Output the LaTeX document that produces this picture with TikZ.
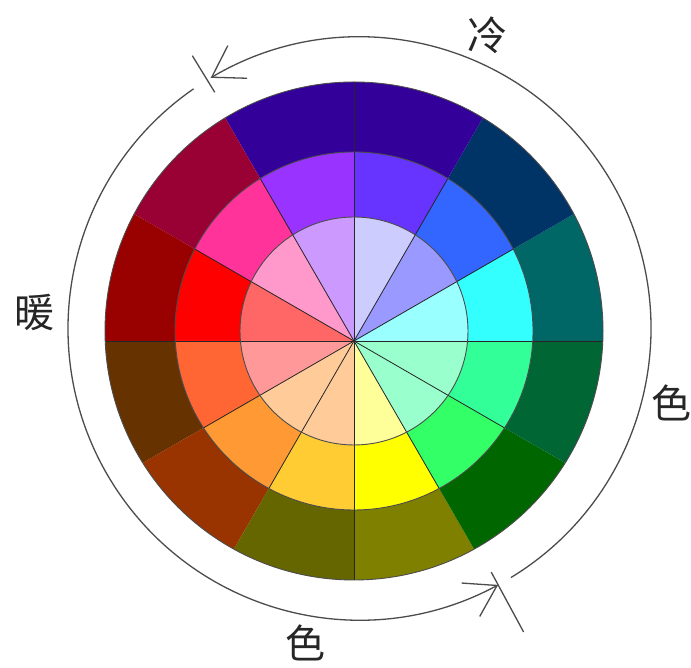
\documentclass[tikz,border=0pt]{standalone}
\usepackage{fontspec}
\newfontfamily\cjk{Noto Sans CJK SC}
\usetikzlibrary{arrows.meta}

\definecolor{o1}{HTML}{006666}
\definecolor{o2}{HTML}{003366}
\definecolor{o3}{HTML}{330099}
\definecolor{o4}{HTML}{330099}
\definecolor{o5}{HTML}{990033}
\definecolor{o6}{HTML}{990000}
\definecolor{o7}{HTML}{663300}
\definecolor{o8}{HTML}{993300}
\definecolor{o9}{HTML}{666600}
\definecolor{o10}{HTML}{808000}
\definecolor{o11}{HTML}{006600}
\definecolor{o12}{HTML}{006633}

\definecolor{m1}{HTML}{33FFFF}
\definecolor{m2}{HTML}{3366FF}
\definecolor{m3}{HTML}{6633FF}
\definecolor{m4}{HTML}{9933FF}
\definecolor{m5}{HTML}{FF3399}
\definecolor{m6}{HTML}{FF0000}
\definecolor{m7}{HTML}{FF6633}
\definecolor{m8}{HTML}{FF9933}
\definecolor{m9}{HTML}{FFCC33}
\definecolor{m10}{HTML}{FFFF00}
\definecolor{m11}{HTML}{33FF66}
\definecolor{m12}{HTML}{33FF99}

\definecolor{i1}{HTML}{99FFFF}
\definecolor{i2}{HTML}{9999FF}
\definecolor{i3}{HTML}{CCCCFF}
\definecolor{i4}{HTML}{CC99FF}
\definecolor{i5}{HTML}{FF99CC}
\definecolor{i6}{HTML}{FF6666}
\definecolor{i7}{HTML}{FF9999}
\definecolor{i8}{HTML}{FFCC99}
\definecolor{i9}{HTML}{FFCC99}
\definecolor{i10}{HTML}{FFFF99}
\definecolor{i11}{HTML}{99FFCC}
\definecolor{i12}{HTML}{99FFCC}

\begin{document}
\begin{tikzpicture}[x=1pt, y=1pt, every node/.style={font=\cjk\fontsize{40}{40}\selectfont, text=black!85, inner sep=0pt}, spoke/.style={draw=black!85, line width=0.8pt}, edge/.style={draw=black!70, line width=0.9pt}, loop/.style={draw=black!70, line width=1.3pt}, tip/.style={-{Straight Barb[length=30pt, width=38pt]}}]
\useasboundingbox (0,0) rectangle (691,668);
\fill[white] (0,0) rectangle (691,668);
\coordinate (oc) at (359.5,339.5);

\begin{scope}[shift={(354,327)}]
\begin{scope}
\clip (0,10) circle (249);
\fill[o1] (0,0) -- (0:400) -- (30:400) -- cycle;
\fill[o2] (0,0) -- (30:400) -- (60:400) -- cycle;
\fill[o3] (0,0) -- (60:400) -- (90:400) -- cycle;
\fill[o4] (0,0) -- (90:400) -- (120:400) -- cycle;
\fill[o5] (0,0) -- (120:400) -- (150:400) -- cycle;
\fill[o6] (0,0) -- (150:400) -- (180:400) -- cycle;
\fill[o7] (0,0) -- (180:400) -- (210:400) -- cycle;
\fill[o8] (0,0) -- (210:400) -- (240:400) -- cycle;
\fill[o9] (0,0) -- (240:400) -- (270:400) -- cycle;
\fill[o10] (0,0) -- (270:400) -- (300:400) -- cycle;
\fill[o11] (0,0) -- (300:400) -- (330:400) -- cycle;
\fill[o12] (0,0) -- (330:400) -- (360:400) -- cycle;
\draw[spoke] (180:400) -- (0:400);
\draw[spoke] (90:400) -- (270:400);
\end{scope}
\begin{scope}
\clip (0,10) circle (179);
\fill[m1] (0,0) -- (0:400) -- (30:400) -- cycle;
\fill[m2] (0,0) -- (30:400) -- (60:400) -- cycle;
\fill[m3] (0,0) -- (60:400) -- (90:400) -- cycle;
\fill[m4] (0,0) -- (90:400) -- (120:400) -- cycle;
\fill[m5] (0,0) -- (120:400) -- (150:400) -- cycle;
\fill[m6] (0,0) -- (150:400) -- (180:400) -- cycle;
\fill[m7] (0,0) -- (180:400) -- (210:400) -- cycle;
\fill[m8] (0,0) -- (210:400) -- (240:400) -- cycle;
\fill[m9] (0,0) -- (240:400) -- (270:400) -- cycle;
\fill[m10] (0,0) -- (270:400) -- (300:400) -- cycle;
\fill[m11] (0,0) -- (300:400) -- (330:400) -- cycle;
\fill[m12] (0,0) -- (330:400) -- (360:400) -- cycle;
\end{scope}
\begin{scope}
\clip (0,10) circle (114);
\fill[i1] (0,0) -- (0:400) -- (30:400) -- cycle;
\fill[i2] (0,0) -- (30:400) -- (60:400) -- cycle;
\fill[i3] (0,0) -- (60:400) -- (90:400) -- cycle;
\fill[i4] (0,0) -- (90:400) -- (120:400) -- cycle;
\fill[i5] (0,0) -- (120:400) -- (150:400) -- cycle;
\fill[i6] (0,0) -- (150:400) -- (180:400) -- cycle;
\fill[i7] (0,0) -- (180:400) -- (210:400) -- cycle;
\fill[i8] (0,0) -- (210:400) -- (240:400) -- cycle;
\fill[i9] (0,0) -- (240:400) -- (270:400) -- cycle;
\fill[i10] (0,0) -- (270:400) -- (300:400) -- cycle;
\fill[i11] (0,0) -- (300:400) -- (330:400) -- cycle;
\fill[i12] (0,0) -- (330:400) -- (360:400) -- cycle;
\end{scope}
\begin{scope}
\clip (0,10) circle (179);
\draw[spoke] (30:400) -- (210:400);
\draw[spoke] (60:400) -- (240:400);
\draw[spoke] (120:400) -- (300:400);
\draw[spoke] (150:400) -- (330:400);
\draw[spoke] (180:400) -- (0:400);
\draw[spoke] (90:400) -- (270:400);
\end{scope}
\draw[edge] (0,10) circle (114);
\draw[edge] (0,10) circle (179);
\draw[edge] (0,10) circle (249);
\end{scope}

\draw[loop, tip] (oc) ++(301.3:291.5) arc[start angle=301.3, end angle=480.7, radius=291.5];
\draw[loop, tip] (oc) ++(124.7:291.5) arc[start angle=124.7, end angle=298.4, radius=291.5];
\draw[loop] (oc) ++(121.5:277) -- ++(121.5:43);
\draw[loop] (oc) ++(-61.6:277) -- ++(-61.6:68);

\node (cold) at (487,633) {冷};
\node (warm) at (34,355) {暖};
\node (colr) at (671,265) {色};
\node (colb) at (305,25) {色};
\end{tikzpicture}
\end{document}
